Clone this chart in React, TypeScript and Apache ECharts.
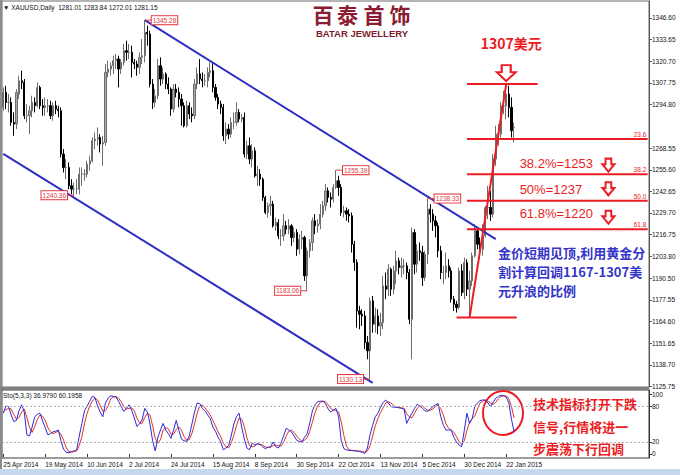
import React, { useEffect, useRef } from "react";
import * as echarts from "echarts";

// ---------- data ----------
const symbolName = "XAUUSD,Daily";
const dateTicks = [
  "25 Apr 2014", "19 May 2014", "10 Jun 2014", "2 Jul 2014", "24 Jul 2014",
  "15 Aug 2014", "8 Sep 2014", "30 Sep 2014", "22 Oct 2014", "13 Nov 2014",
  "5 Dec 2014", "30 Dec 2014", "22 Jan 2015",
];
const barsPerTick = 16;
const slotCount = 247; // daily slots incl. the empty chart shift on the right

// daily bars: [open, close, low, high]
const ohlc: number[][] = [
  [1293, 1302, 1291, 1305], [1302, 1296, 1292, 1306], [1296, 1296, 1290, 1301], [1296, 1284, 1282, 1299], [1284, 1283, 1276, 1290],
  [1283, 1302, 1280, 1304], [1301, 1309, 1298, 1312], [1309, 1308, 1304, 1315], [1308, 1288, 1286, 1310], [1288, 1288, 1284, 1295],
  [1288, 1291, 1277, 1294], [1291, 1296, 1287, 1300], [1296, 1294, 1290, 1299], [1294, 1305, 1293, 1308], [1305, 1294, 1292, 1306],
  [1294, 1293, 1288, 1298], [1293, 1294, 1288, 1299], [1294, 1294, 1290, 1298], [1294, 1288, 1286, 1297], [1288, 1294, 1285, 1296],
  [1294, 1292, 1289, 1297], [1292, 1291, 1287, 1294], [1291, 1265, 1263, 1293], [1265, 1257, 1254, 1268], [1257, 1257, 1250, 1262],
  [1257, 1246, 1244, 1260], [1246, 1244, 1241, 1250], [1244, 1244, 1240.36, 1248], [1244, 1244, 1241, 1250], [1244, 1253, 1241, 1257],
  [1253, 1253, 1246, 1257], [1253, 1253, 1249, 1256], [1253, 1259, 1251, 1261], [1259, 1261, 1255, 1264], [1261, 1273, 1260, 1275],
  [1273, 1274, 1268, 1278], [1274, 1275, 1270, 1281], [1275, 1271, 1266, 1277], [1271, 1272, 1258, 1276], [1272, 1314, 1270, 1319],
  [1314, 1316, 1311, 1321], [1316, 1318, 1312, 1320], [1318, 1321, 1313, 1324], [1321, 1322, 1316, 1325], [1322, 1316, 1305, 1324],
  [1316, 1320, 1313, 1322], [1320, 1327, 1318, 1331], [1327, 1326, 1321, 1333], [1326, 1326, 1322, 1331], [1326, 1320, 1311, 1330],
  [1320, 1319, 1316, 1322], [1319, 1317, 1312, 1321], [1317, 1323, 1313, 1326], [1323, 1324, 1319, 1334], [1324, 1338, 1320, 1345.28],
  [1338, 1337, 1330, 1342], [1337, 1307, 1305, 1339], [1307, 1296, 1292, 1310], [1296, 1300, 1293, 1304], [1300, 1318, 1298, 1322],
  [1318, 1310, 1306, 1323], [1310, 1313, 1307, 1317], [1313, 1307, 1304, 1314], [1307, 1304, 1301, 1311], [1304, 1292, 1288, 1305],
  [1292, 1304, 1290, 1307], [1304, 1302, 1299, 1307], [1302, 1298, 1293, 1305], [1298, 1294, 1282, 1301], [1294, 1282, 1281, 1296],
  [1282, 1294, 1281, 1297], [1294, 1289, 1286, 1296], [1289, 1288, 1284, 1293], [1288, 1307, 1286, 1310], [1307, 1313, 1304, 1317],
  [1313, 1310, 1307, 1322], [1310, 1309, 1305, 1314], [1309, 1309, 1306, 1313], [1309, 1314, 1305, 1317], [1314, 1315, 1311, 1320],
  [1315, 1305, 1302, 1320], [1305, 1299, 1297, 1307], [1299, 1295, 1292, 1301], [1295, 1293, 1289, 1297], [1293, 1276, 1273, 1295],
  [1276, 1280, 1271, 1284], [1280, 1277, 1274, 1283], [1277, 1284, 1275, 1287], [1284, 1284, 1280, 1290], [1284, 1290, 1282, 1296],
  [1290, 1286, 1284, 1292], [1286, 1287, 1284, 1289], [1287, 1265, 1263, 1290], [1265, 1270, 1262, 1273], [1270, 1262, 1259, 1275],
  [1262, 1267, 1257, 1271], [1267, 1252, 1251, 1269], [1252, 1253, 1246, 1258], [1253, 1250, 1246, 1256], [1250, 1239, 1237, 1251],
  [1239, 1230, 1229, 1240], [1230, 1234, 1227, 1236], [1234, 1235, 1228, 1240], [1235, 1222, 1221, 1237], [1222, 1224, 1219, 1227],
  [1224, 1216, 1214, 1226], [1216, 1216, 1210, 1220], [1216, 1222, 1213, 1229], [1222, 1220, 1217, 1225], [1220, 1222, 1217, 1226],
  [1222, 1215, 1210, 1223], [1215, 1218, 1212, 1221], [1218, 1208, 1204, 1220], [1208, 1214, 1205, 1217], [1214, 1215, 1208, 1219],
  [1215, 1192, 1189, 1216], [1192, 1207, 1183.06, 1209], [1207, 1212, 1203, 1214], [1212, 1225, 1207, 1227], [1225, 1222, 1217, 1229],
  [1222, 1223, 1218, 1226], [1223, 1229, 1220, 1235], [1229, 1234, 1227, 1237], [1234, 1243, 1231, 1247], [1243, 1239, 1236, 1245],
  [1239, 1238, 1233, 1242], [1238, 1245, 1236, 1247], [1245, 1249, 1244, 1255.39], [1249, 1245, 1240, 1252], [1245, 1230, 1228, 1247],
  [1230, 1231, 1227, 1234], [1231, 1229, 1225, 1233], [1229, 1228, 1224, 1232], [1228, 1211, 1206, 1230], [1211, 1200, 1195, 1213],
  [1200, 1171, 1161, 1202], [1171, 1169, 1160, 1174], [1169, 1168, 1162, 1172], [1168, 1152, 1148, 1171], [1152, 1147, 1142, 1156],
  [1147, 1177, 1130.13, 1179], [1177, 1163, 1158, 1180], [1163, 1168, 1158, 1173], [1168, 1162, 1157, 1172], [1162, 1164, 1156, 1170],
  [1164, 1186, 1160, 1192], [1186, 1184, 1178, 1194], [1184, 1196, 1180, 1199], [1196, 1184, 1180, 1197], [1184, 1195, 1181, 1198],
  [1195, 1201, 1187, 1207], [1201, 1197, 1193, 1203], [1197, 1198, 1191, 1203], [1198, 1198, 1193, 1202], [1198, 1194, 1190, 1200],
  [1194, 1166, 1163, 1196], [1166, 1218, 1142, 1221], [1218, 1199, 1193, 1220], [1199, 1207, 1194, 1211], [1207, 1206, 1201, 1212],
  [1206, 1191, 1186, 1210], [1191, 1205, 1189, 1207], [1205, 1232, 1199, 1238.33], [1232, 1229, 1224, 1235], [1229, 1225, 1219, 1232],
  [1225, 1222, 1215, 1228], [1222, 1207, 1203, 1224], [1207, 1194, 1190, 1210], [1194, 1194, 1187, 1198], [1194, 1198, 1190, 1206],
  [1198, 1195, 1191, 1202], [1195, 1178, 1176, 1197], [1178, 1175, 1171, 1180], [1175, 1173, 1170, 1177], [1173, 1195, 1172, 1197],
  [1195, 1182, 1180, 1199], [1182, 1200, 1178, 1203], [1200, 1184, 1180, 1202], [1184, 1189, 1167, 1195], [1189, 1204, 1186, 1206],
  [1204, 1219, 1203, 1223], [1219, 1211, 1208, 1220], [1211, 1208, 1205, 1215], [1208, 1216, 1204, 1223], [1216, 1233, 1215, 1234],
  [1233, 1233, 1226, 1246], [1233, 1229, 1225, 1243], [1229, 1262, 1227, 1265], [1262, 1277, 1258, 1282], [1277, 1277, 1270, 1283],
  [1277, 1294, 1275, 1296], [1294, 1294, 1289, 1303], [1294, 1301, 1286, 1307], [1301, 1293, 1287, 1306], [1293, 1279, 1275, 1299],
  [1281.01, 1281.15, 1272.01, 1283.84],
];

// Stochastic(5,3,3): main (%K) and signal (%D)
const stochK: number[] = [
  68, 80, 79, 65, 54, 56, 72, 82, 70, 32, 30, 45, 62, 66, 68, 55, 44, 32, 34, 37,
  38, 40, 22, 8, 3, 2, 4, 5, 7, 30, 51, 72, 80, 88, 96, 94, 80, 70, 62, 85,
  93, 97, 96, 95, 88, 79, 71, 76, 82, 73, 60, 46, 50, 57, 76, 70, 50, 22, 5, 28,
  40, 51, 40, 34, 26, 40, 56, 40, 25, 22, 21, 30, 50, 70, 85, 84, 76, 72, 65, 59,
  45, 38, 28, 20, 7, 10, 14, 30, 50, 62, 68, 45, 25, 10, 7, 18, 15, 17, 16, 12,
  9, 11, 12, 20, 12, 10, 18, 30, 43, 40, 37, 30, 23, 21, 20, 28, 34, 52, 72, 82,
  87, 88, 88, 84, 75, 70, 73, 76, 62, 23, 9, 7, 6, 6, 5, 5, 4, 3, 1, 10,
  32, 48, 62, 68, 78, 86, 90, 85, 79, 78, 78, 77, 76, 75, 51, 60, 68, 76, 83, 80,
  76, 72, 71, 75, 79, 82, 84, 62, 48, 40, 40, 40, 28, 20, 15, 12, 40, 68, 51, 59,
  80, 85, 89, 90, 90, 85, 79, 86, 93, 96, 98, 97, 95, 85, 58, 36.979,
];
const stochD: number[] = [
  70, 74, 76, 75, 66, 58, 61, 70, 75, 61, 44, 36, 46, 58, 65, 63, 56, 44, 37, 34,
  36, 38, 33, 23, 11, 4, 3, 4, 5, 14, 29, 51, 68, 80, 88, 93, 90, 81, 71, 72,
  80, 92, 95, 96, 93, 87, 79, 75, 76, 77, 72, 60, 52, 51, 61, 68, 65, 47, 26, 18,
  24, 40, 44, 42, 33, 33, 41, 45, 40, 29, 23, 24, 34, 50, 68, 80, 82, 77, 71, 65,
  56, 47, 37, 29, 18, 12, 10, 18, 31, 47, 60, 58, 46, 27, 14, 12, 13, 17, 16, 15,
  12, 11, 11, 14, 15, 14, 13, 19, 30, 38, 40, 36, 30, 25, 21, 23, 27, 38, 53, 69,
  80, 86, 88, 87, 82, 76, 73, 73, 70, 54, 31, 13, 7, 6, 6, 5, 5, 4, 3, 5,
  14, 30, 47, 59, 69, 77, 85, 87, 85, 81, 78, 78, 77, 76, 67, 62, 60, 68, 76, 80,
  80, 76, 73, 73, 75, 79, 82, 76, 65, 50, 43, 40, 36, 29, 21, 16, 22, 40, 53, 59,
  63, 75, 85, 88, 90, 88, 85, 83, 86, 92, 96, 97, 97, 92, 79, 60.1958,
];

const priceTicks = [
  1346.6, 1333.65, 1320.7, 1307.75, 1294.8, 1268.55, 1255.6, 1242.65, 1229.7,
  1216.75, 1203.8, 1190.5, 1177.55, 1164.6, 1151.65, 1138.7, 1125.75,
];
const stochTicks = [0, 20, 80, 100];
const stochLevels = [80, 20];

// swing highs / lows tagged on the chart
const swingIndex = [54, 27, 116, 127, 140, 162];
const swingPrice = [1345.28, 1240.36, 1183.06, 1255.39, 1130.13, 1238.33];

// descending channel, [bar index, price]
const upperChannel = [[54, 1345.28], [188, 1214]];
const lowerChannel = [[0, 1265.2], [141, 1127.9]];

// Fibonacci retracement of the 1167 -> 1307 rally
const waveLowIndex = 178;
const waveHighIndex = 192;
const waveLow = 1167;
const waveHigh = 1307;
const fibRatios = ["23.6", "38.2", "50.0", "61.8"];
const fibPrices = [1274, 1253, 1237, 1220];

const noteBlue = ["金价短期见顶,利用黄金分", "割计算回调1167-1307美", "元升浪的比例"];
const noteRed = ["技术指标打开下跌", "信号,行情将进一", "步震荡下行回调"];

// ---------- styling / layout ----------
const RED = "#ec1c24";
const BLUE = "#2e2ec4";
const TAG_RED = "#e0393e";
const SANS = "Liberation Sans, Arial, sans-serif";
const CJK = "'Noto Sans CJK SC', sans-serif";
const swingSide = ["right", "left", "left", "right", "left", "right"];
const fibCaptionLift = [0, 10, 11, 15];
const fibArrowLift = [0, 9, 12, 12];
const fibLineStart = 177;
const fibCaptionAt = 197;
const fibArrowAt = 231;
const ARROW = "path://M5,0 L14,0 L14,7 L19,7 L9.5,16 L0,7 L5,7 Z";
const HIDDEN = { color: "rgba(0,0,0,0)" };

const categories = Array.from({ length: slotCount }, (_, i) => String(i));

function buildOption(): any {
  const last = ohlc[ohlc.length - 1];
  const header = `▼ ${symbolName}  ${last[0].toFixed(2)} ${last[3].toFixed(2)} ${last[2].toFixed(2)} ${last[1].toFixed(2)}`;
  const stoLabel = `Sto(5,3,3) ${stochK[stochK.length - 1].toFixed(4)} ${stochD[stochD.length - 1].toFixed(4)}`;

  const fibSeries = fibPrices.map((p, k) => {
    const marks: any[] = [
      {
        coord: [slotCount - 1, p],
        symbolSize: 1,
        itemStyle: HIDDEN,
        label: {
          show: true, position: "left", distance: 1, offset: [0, -4],
          formatter: fibRatios[k], fontSize: 6.5, fontFamily: SANS, color: RED,
        },
      },
    ];
    if (k > 0) {
      marks.push({
        coord: [fibCaptionAt, p],
        symbolSize: 1,
        itemStyle: HIDDEN,
        label: {
          show: true, position: "right", distance: 0, offset: [0, -fibCaptionLift[k]],
          formatter: `${parseFloat(fibRatios[k])}%=${p}`,
          fontSize: 13, fontFamily: SANS, color: RED,
        },
      });
      marks.push({
        coord: [fibArrowAt, p],
        symbol: ARROW,
        symbolSize: [12, 13],
        symbolOffset: [0, -fibArrowLift[k]],
        itemStyle: { color: "#fff", borderColor: RED, borderWidth: 2 },
        label: { show: false },
      });
    }
    return {
      type: "line", xAxisIndex: 0, yAxisIndex: 0, silent: true,
      data: [[fibLineStart, p], [slotCount - 1, p]],
      symbol: "none",
      lineStyle: { color: RED, width: 2 },
      markPoint: { silent: true, label: { show: false }, data: marks },
    };
  });

  return {
    animation: false,
    backgroundColor: "#fff",
    grid: [
      { left: 2, top: 1, width: 647, height: 386, show: true, borderColor: "#6b6b6b", borderWidth: 1, backgroundColor: "#fff" },
      { left: 2, top: 390, width: 647, height: 68, show: true, borderColor: "#3a3a3a", borderWidth: 1, backgroundColor: "#fff" },
    ],
    xAxis: [
      {
        type: "category", gridIndex: 0, data: categories, boundaryGap: true,
        axisLine: { show: false }, axisTick: { show: false }, axisLabel: { show: false }, splitLine: { show: false },
      },
      {
        type: "category", gridIndex: 1, data: categories, boundaryGap: true,
        axisLine: { show: false },
        axisTick: {
          show: true, alignWithLabel: true, length: 3,
          interval: (i: number) => i % barsPerTick === 0 && i / barsPerTick < dateTicks.length,
          lineStyle: { color: "#333" },
        },
        axisLabel: {
          show: true, align: "left", margin: 3, fontSize: 6.5, fontFamily: SANS, color: "#111",
          interval: (i: number) => i % barsPerTick === 0 && i / barsPerTick < dateTicks.length,
          formatter: (_v: string, i: number) => dateTicks[i / barsPerTick] ?? "",
        },
        splitLine: { show: false },
      },
    ],
    yAxis: [
      {
        type: "value", gridIndex: 0, position: "right", min: 1125.38, max: 1356.79, scale: true,
        axisLine: { show: true, lineStyle: { color: "#555" } },
        axisTick: { show: true, length: 3, customValues: priceTicks, lineStyle: { color: "#555" } },
        axisLabel: {
          show: true, customValues: priceTicks, margin: 3, fontSize: 6.5, fontFamily: SANS, color: "#111",
          formatter: (v: number) => v.toFixed(2),
        },
        splitLine: { show: false },
      },
      {
        type: "value", gridIndex: 1, position: "right", min: -6.667, max: 106.667,
        axisLine: { show: true, lineStyle: { color: "#333" } },
        axisTick: { show: true, length: 3, customValues: stochTicks, lineStyle: { color: "#333" } },
        axisLabel: { show: true, customValues: stochTicks, margin: 3, fontSize: 6.5, fontFamily: SANS, color: "#111" },
        splitLine: { show: false },
      },
    ],
    series: [
      {
        type: "candlestick", xAxisIndex: 0, yAxisIndex: 0, data: ohlc, barWidth: 1.7,
        itemStyle: { color: "#a9a9a9", color0: "#000", borderColor: "#6d6d6d", borderColor0: "#000", borderWidth: 1 },
        markPoint: {
          silent: true,
          symbol: "rect",
          symbolSize: [7, 1],
          itemStyle: { color: TAG_RED },
          data: swingIndex.map((idx, k) => ({
            coord: [idx, swingPrice[k]],
            symbolOffset: [swingSide[k] === "right" ? 3.5 : -3.5, 0],
            label: {
              show: true, position: swingSide[k], distance: 0,
              formatter: swingPrice[k].toFixed(2),
              fontSize: 6.5, fontFamily: SANS, color: TAG_RED,
              backgroundColor: "#fff", borderColor: TAG_RED, borderWidth: 1, padding: [1, 1, 0, 1],
            },
          })),
        },
        markLine: {
          silent: true, symbol: ["none", "none"],
          lineStyle: { opacity: 0 },
          data: [{ yAxis: last[1] }],
          label: {
            show: true, position: "end", distance: 1, formatter: last[1].toFixed(2),
            backgroundColor: "#000", color: "#fff", fontSize: 6.5, fontFamily: SANS, padding: [1, 4, 1, 3],
          },
        },
      },
      {
        type: "line", xAxisIndex: 0, yAxisIndex: 0, silent: true, data: upperChannel,
        symbol: "none", lineStyle: { color: BLUE, width: 2 },
      },
      {
        type: "line", xAxisIndex: 0, yAxisIndex: 0, silent: true, data: lowerChannel,
        symbol: "none", lineStyle: { color: BLUE, width: 2 },
      },
      {
        type: "line", xAxisIndex: 0, yAxisIndex: 0, silent: true,
        data: [[waveLowIndex, waveLow], [waveHighIndex, waveHigh]],
        symbol: "none", lineStyle: { color: RED, width: 2 },
      },
      {
        type: "line", xAxisIndex: 0, yAxisIndex: 0, silent: true,
        data: [[173, waveLow], [196, waveLow]],
        symbol: "none", lineStyle: { color: RED, width: 2 },
      },
      {
        type: "line", xAxisIndex: 0, yAxisIndex: 0, silent: true,
        data: [[fibLineStart, waveHigh], [204, waveHigh]],
        symbol: "none", lineStyle: { color: RED, width: 2 },
        markPoint: {
          silent: true,
          data: [
            {
              coord: [waveHighIndex, waveHigh],
              symbol: ARROW, symbolSize: [19, 16], symbolOffset: [0, -11],
              itemStyle: { color: "#fff", borderColor: RED, borderWidth: 2 },
              label: {
                show: true, position: "top", distance: 14, offset: [5, 0],
                formatter: `${waveHigh}美元`, fontSize: 14, fontWeight: "bold", fontFamily: CJK, color: RED,
              },
            },
          ],
        },
      },
      ...fibSeries,
      {
        type: "line", xAxisIndex: 1, yAxisIndex: 1, silent: true, data: stochD,
        symbol: "none", lineStyle: { color: "#e0302c", width: 1 },
        markLine: {
          silent: true, symbol: ["none", "none"],
          lineStyle: { type: [2, 2], color: "#b0b0b0", width: 1 },
          label: { show: false },
          data: stochLevels.map((v) => ({ yAxis: v })),
        },
      },
      {
        type: "line", xAxisIndex: 1, yAxisIndex: 1, silent: true, data: stochK,
        symbol: "none", lineStyle: { color: "#2b2bd6", width: 1 },
      },
    ],
    graphic: [
      { type: "rect", silent: true, shape: { x: 0, y: 0, width: 2, height: 469 }, style: { fill: "#8c8c8c" } },
      { type: "rect", silent: true, shape: { x: 0, y: 387, width: 649, height: 3 }, style: { fill: "#808080" } },
      { type: "rect", silent: true, shape: { x: 0, y: 469, width: 680, height: 6 }, style: { fill: "#c6d7ee" } },
      {
        type: "text", silent: true, x: 3, y: 7,
        style: { text: header, fill: "#111", fontSize: 6.5, fontFamily: SANS, verticalAlign: "middle" },
      },
      {
        type: "text", silent: true, x: 3, y: 395,
        style: { text: stoLabel, fill: "#111", fontSize: 6.5, fontFamily: SANS, verticalAlign: "middle" },
      },
      ...["百", "泰", "首", "饰"].map((ch, k) => ({
        type: "text", silent: true, x: [323, 347.5, 374, 400][k], y: 13.5,
        style: {
          text: ch, fill: "#8b1c31", fontSize: 21, fontWeight: "bold", fontFamily: CJK,
          align: "center", verticalAlign: "middle",
        },
      })),
      {
        type: "text", silent: true, x: 362, y: 33,
        style: {
          text: "BATAR JEWELLERY", fill: "#7d1a2c", fontSize: 9.5, fontWeight: "bold", fontFamily: SANS,
          align: "center", verticalAlign: "middle",
        },
      },
      ...noteBlue.map((line, k) => ({
        type: "text", silent: true, x: 498, y: [252, 271.5, 290][k],
        style: { text: line, fill: "#3434c8", fontSize: 13, fontWeight: "bold", fontFamily: CJK, verticalAlign: "middle" },
      })),
      ...noteRed.map((line, k) => ({
        type: "text", silent: true, x: 533, y: [403, 426, 448][k],
        style: { text: line, fill: RED, fontSize: 13, fontWeight: "bold", fontFamily: CJK, verticalAlign: "middle" },
      })),
      {
        type: "ellipse", silent: true,
        shape: { cx: 503, cy: 413, rx: 20, ry: 22 },
        style: { fill: "none", stroke: RED, lineWidth: 2 },
      },
    ],
  };
}

export default function App() {
  const ref = useRef<HTMLDivElement>(null);
  useEffect(() => {
    if (!ref.current) return;
    const chart = echarts.init(ref.current, null, { renderer: "svg" });
    chart.setOption(buildOption());
    return () => chart.dispose();
  }, []);
  return (
    <div
      ref={ref}
      style={{ position: "fixed", left: 0, top: 0, width: 680, height: 475, background: "#fff" }}
    />
  );
}
